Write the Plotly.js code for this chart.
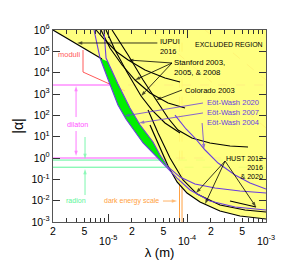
<!DOCTYPE html>
<html><head><meta charset="utf-8">
<script src="https://cdn.plot.ly/plotly-3.0.1.min.js"></script>
<style>html,body{margin:0;padding:0;background:#fff}#c{width:287px;height:263px}</style>
</head><body><div id="c"></div>
<script>
// ---- data (lambda in m, |alpha|) ----
const yellowLam   = [2.0e-6,4.03e-6,7.89e-6,1.026e-5,1.33e-5,1.68e-5,2.19e-5,2.77e-5,3.60e-5,4.54e-5,5.74e-5,7.46e-5,9.98e-5,1.46e-4,2.61e-4,4.69e-4,1e-3,1e-3];
const yellowAlpha = [1e6,2.21e5,4.86e4,3.65e3,305,67.3,16.5,5.04,1.91,0.80,0.339,0.0748,0.0228,0.00863,0.00327,0.00191,0.00138,1e6];
const greenLam    = [7.89e-6,1.026e-5,1.33e-5,1.68e-5,2.19e-5,2.77e-5,3.60e-5,4.54e-5,5.74e-5,4.54e-5,3.70e-5,3.10e-5,2.54e-5,1.89e-5,1.33e-5,9.82e-6];
const greenAlpha  = [4.86e4,3.65e3,305,67.3,16.5,5.04,1.91,0.80,0.339,1.38,5.61,13.3,35.2,220,2.94e3,3.37e4];

const iupuiLam = [2.0e-6,4.03e-6,8.36e-6];
const iupuiAlpha = [1e6,2.21e5,4.37e4];
const stan03Lam = [7.01e-6,9.12e-6,1.29e-5,1.79e-5,2.93e-5,5.25e-5,8.15e-5];
const stan03Alpha = [1e6,3.40e5,9.31e4,3.93e4,1.33e4,5.62e3,3.65e3];
const stan05Lam = [8.11e-6,1.054e-5,1.50e-5,2.19e-5,3.39e-5,5.74e-5,9.42e-5];
const stan05Alpha = [1e6,1.43e5,2.29e4,4.53e3,1.11e3,378,220];
const stan08Lam = [9.40e-6,1.22e-5,1.73e-5,2.61e-5,3.60e-5,5.25e-5,8.15e-5];
const stan08Alpha = [1e6,1.15e5,1.07e4,805,177,43.7,14.8];
const coloLam = [1.12e-5,1.79e-5,2.77e-5,4.04e-5,5.74e-5,7.67e-5,1.15e-4,1.95e-4,3.50e-4,5.92e-4];
const coloAlpha = [1e6,6.73e4,4.53e3,523,74.8,20.5,8.65,5.04,3.65,3.27];
const ew20Lam = [6.62e-6,7.89e-6,1.026e-5,1.33e-5,1.68e-5,2.19e-5,2.77e-5,3.60e-5,4.54e-5,5.74e-5,7.46e-5,1.09e-4,1.95e-4,4.05e-4,1e-3];
const ew20Alpha = [1e6,4.86e4,3.65e3,305,67.3,16.5,5.04,1.91,0.80,0.339,0.115,0.0316,0.00962,0.00504,0.00364];
const ew07Lam = [8.85e-6,9.40e-6,1.33e-5,1.89e-5,2.54e-5,3.10e-5,3.70e-5,4.54e-5,5.74e-5,8.15e-5,1.26e-4,2.26e-4,4.69e-4,1e-3];
const ew07Alpha = [1e6,4.86e4,2.94e3,220,35.2,13.3,5.61,1.38,0.38,0.128,0.0603,0.0392,0.0283,0.0228];
const ew04Lam = [7.03e-5,9.70e-5,1.26e-4,1.69e-4,2.47e-4,4.05e-4,6.28e-4,1e-3];
const ew04Alpha = [103,22.9,8.65,2.37,0.58,0.160,0.0671,0.0352];
const hust12Lam = [3.20e-5,4.29e-5,6.08e-5,8.89e-5,1.34e-4,2.61e-4,5.42e-4,1e-3];
const hust12Alpha = [177,14.8,1.0,0.093,0.0205,0.00625,0.00364,0.00293];
const hust16Lam = [3.50e-4,5.12e-4,7.48e-4];
const hust16Alpha = [0.00962,0.00695,0.00504];
const hust20Lam = [3.39e-5,4.54e-5,5.74e-5,7.46e-5,9.98e-5,1.46e-4,2.61e-4,4.69e-4,1e-3];
const hust20Alpha = [35.2,2.94,0.42,0.0748,0.0228,0.00863,0.00327,0.00191,0.00138];

const moduliLam = [4.80e-6,4.80e-6,1.64e-5];
const moduliAlpha = [1.15e5,1.07e4,1.38e3];
// horizontal model lines: alpha level and lambda where it enters the excluded region
const dilatonAlpha = [2640,1.0];
const dilatonEdgeLam = [1.06e-5,4.3e-5];
const radionAlpha = [0.80,0.37];
const radionEdgeLam = [4.54e-5,5.5e-5];
const darkEnergyLam = [8.02e-5,8.63e-5];
const darkEnergyEdgeAlpha = 0.12;
const guideLam = [[3.39e-5,1e-3],[1.69e-4,1e-3]];
const guideAlpha = [[1e6,25.5],[1e6,4.53e3]];

const lamRange = [2e-6,1e-3];
const alphaRange = [1e-3,1e6];
const yTickVals = [1e-3,1e-2,1e-1,1e0,1e1,1e2,1e3,1e4,1e5,1e6];
const yTickText = ['10<sup>-3</sup>','10<sup>-2</sup>','10<sup>-1</sup>','10<sup>0</sup>','10<sup>1</sup>','10<sup>2</sup>','10<sup>3</sup>','10<sup>4</sup>','10<sup>5</sup>','10<sup>6</sup>'];
const xMinorVals = [2e-6,3e-6,4e-6,5e-6,6e-6,7e-6,8e-6,9e-6,2e-5,3e-5,4e-5,5e-5,6e-5,7e-5,8e-5,9e-5,2e-4,3e-4,4e-4,5e-4,6e-4,7e-4,8e-4,9e-4];
const xDigitVals = [2e-6,5e-6,2e-5,5e-5,2e-4,5e-4];
const xDigitText = ['2','5','2','5','2','5'];
const xDecadeVals = [1e-5,1e-4,1e-3];
const xDecadeText = ['10<sup>-5</sup>','10<sup>-4</sup>','10<sup>-3</sup>'];

// pointers: [tailLam, tailAlpha, headLam, headAlpha]
const ptrIUPUI = [[4.20e-5,2.46e5,4.03e-6,2.46e5]];
const ptrStanford = [[6.44e-5,2.84e4,1.79e-5,3.93e4],[6.44e-5,2.84e4,2.19e-5,4.53e3],[6.44e-5,2.84e4,2.61e-5,805]];
const ptrColorado = [[8.63e-5,1.54e3,4.04e-5,523]];
const ptrEW = [[1.59e-4,378,1.61e-5,92.9],[1.59e-4,129,2.46e-5,43.7],[1.55e-4,43.7,1.64e-4,2.64]];
const ptrHUST = [[3.03e-4,0.721,1.30e-4,0.0228],[3.03e-4,0.721,1.69e-4,0.00695],[3.03e-4,0.721,7.48e-4,0.00504]];
const ptrDilaton = [[3.92e-6,83.4,3.92e-6,2370],[3.92e-6,18.4,3.92e-6,1.24]];
const ptrRadion = [[5.09e-6,9.64,5.09e-6,0.90],[5.09e-6,0.0184,5.09e-6,0.304]];
const ptrDark = [[4.95e-5,0.00962,7.46e-5,0.00962]];

// ---- styles ----
const BLACK='#000000', PURPLE='#6a3de0', RED='#ff5a5a', MAG='#ff55ff', MINT='#5cf59a', ORANGE='#ffa040';
const traces = [];
function line(x,y,color,w,dash){traces.push({x:x,y:y,mode:'lines',type:'scatter',line:{color:color,width:w||1,dash:dash||'solid'},hoverinfo:'skip',showlegend:false});}
function pointers(list,color){list.forEach(p=>traces.push({x:[p[0],p[2]],y:[p[1],p[3]],mode:'lines+markers',type:'scatter',
  line:{color:color,width:0.8},marker:{symbol:'arrow',angleref:'previous',size:[0,5.5],color:color,line:{width:0}},hoverinfo:'skip',showlegend:false}));}

guideLam.forEach((g,i)=>line(g,guideAlpha[i],'rgba(255,160,170,0.9)',0.8,'dash'));
darkEnergyLam.forEach(l=>{line([l,l],[alphaRange[0],darkEnergyEdgeAlpha],ORANGE,1);line([l,l],[darkEnergyEdgeAlpha,alphaRange[1]],'rgba(255,170,110,0.8)',0.8,'dash');});
dilatonAlpha.forEach((a,i)=>{line([lamRange[0],dilatonEdgeLam[i]],[a,a],MAG,1);line([dilatonEdgeLam[i],lamRange[1]],[a,a],'rgba(255,110,255,0.8)',0.8,'dash');});
radionAlpha.forEach((a,i)=>{line([lamRange[0],radionEdgeLam[i]],[a,a],MINT,1);line([radionEdgeLam[i],lamRange[1]],[a,a],'rgba(110,245,160,0.8)',0.8,'dash');});
line(moduliLam,moduliAlpha,RED,1);

traces.push({x:yellowLam,y:yellowAlpha,mode:'lines',fill:'toself',fillcolor:'rgba(255,255,100,0.82)',line:{width:0},hoverinfo:'skip',showlegend:false});
traces.push({x:greenLam,y:greenAlpha,mode:'lines',fill:'toself',fillcolor:'#00f000',line:{width:0},hoverinfo:'skip',showlegend:false});

line(iupuiLam,iupuiAlpha,BLACK,1.1);
line(stan03Lam,stan03Alpha,BLACK,1.1);
line(stan05Lam,stan05Alpha,BLACK,1.1);
line(stan08Lam,stan08Alpha,BLACK,1.1);
line(coloLam,coloAlpha,BLACK,1.1);
line(hust12Lam,hust12Alpha,BLACK,1.1);
line(hust16Lam,hust16Alpha,BLACK,1.1);
line(hust20Lam,hust20Alpha,BLACK,1.2);
line(ew20Lam,ew20Alpha,PURPLE,1.1);
line(ew07Lam,ew07Alpha,PURPLE,1.1);
line(ew04Lam,ew04Alpha,PURPLE,1.1);

pointers(ptrIUPUI,BLACK);pointers(ptrStanford,BLACK);pointers(ptrColorado,BLACK);pointers(ptrHUST,BLACK);
pointers(ptrEW,PURPLE);pointers(ptrDilaton,MAG);pointers(ptrRadion,MINT);pointers(ptrDark,ORANGE);
// invisible trace so the digit-label axis is drawn
traces.push({x:xDigitVals,y:xDigitVals.map(()=>1),mode:'markers',marker:{opacity:0},xaxis:'x2',hoverinfo:'skip',showlegend:false});

const L=Math.log10;
const annotations=[];
const F='"Liberation Sans",Arial,Helvetica,sans-serif';
function txt(t,x,y,xa,color,size){annotations.push({text:t,x:x,y:y,xref:'paper',yref:'paper',xanchor:xa,yanchor:'middle',align:xa==='right'?'right':'left',showarrow:false,font:{family:F,size:size,color:color||BLACK}});}
txt('IUPUI<br>2016',0.491,0.912,'left',BLACK,7.4);
txt('EXCLUDED REGION',0.657,0.922,'left',BLACK,7);
txt('Stanford 2003,<br>2005, &amp; 2008',0.561,0.806,'left',BLACK,7.8);
txt('Colorado 2003',0.608,0.6875,'left',BLACK,7.6);
txt('Eöt-Wash 2020',0.712,0.620,'left',PURPLE,7.6);
txt('Eöt-Wash 2007',0.712,0.568,'left',PURPLE,7.6);
txt('Eöt-Wash 2004',0.712,0.516,'left',PURPLE,7.6);
txt('HUST 2012<br>2016<br>&amp; 2020',0.997,0.281,'right',BLACK,7.1);
txt('moduli',0.136,0.870,'right',RED,7.5);
txt('dilaton',0.115,0.510,'center',MAG,7.2);
txt('radion',0.110,0.109,'center',MINT,7.1);
txt('dark energy scale',0.230,0.109,'left',ORANGE,7);

const layout={
  width:287,height:263,margin:{l:53,r:21,t:30,b:41},
  paper_bgcolor:'#fff',plot_bgcolor:'#fff',showlegend:false,
  font:{family:F,size:10.5,color:'#000'},
  xaxis:{type:'log',range:[L(lamRange[0]),L(lamRange[1])],tickmode:'array',tickvals:xDecadeVals,ticktext:xDecadeText,
    ticks:'inside',ticklen:8,tickwidth:1,tickcolor:'#333',showline:true,linecolor:'#555',linewidth:1.3,mirror:'ticks',
    minor:{tickmode:'array',tickvals:xMinorVals,ticks:'inside',ticklen:4,tickwidth:1,tickcolor:'#333',showgrid:false},
    showgrid:false,zeroline:false,tickfont:{family:F,size:10.5},ticklabelstandoff:9,
    title:{text:'λ (m)',font:{family:F,size:13},standoff:2}},
  xaxis2:{type:'log',overlaying:'x',anchor:'y',side:'bottom',range:[L(lamRange[0]),L(lamRange[1])],tickmode:'array',
    tickvals:xDigitVals,ticktext:xDigitText,ticks:'',showline:false,showgrid:false,zeroline:false,
    tickfont:{family:F,size:10.5},ticklabelstandoff:1},
  yaxis:{type:'log',range:[L(alphaRange[0]),L(alphaRange[1])],tickmode:'array',tickvals:yTickVals,ticktext:yTickText,
    ticks:'inside',ticklen:7,tickwidth:1,tickcolor:'#333',showline:true,linecolor:'#555',linewidth:1.3,mirror:'ticks',
    showgrid:false,zeroline:false,tickfont:{family:F,size:10.5},
    title:{text:'|α|',font:{family:F,size:14},standoff:4}},
  annotations:annotations
};
Plotly.newPlot('c',traces,layout,{staticPlot:true,displayModeBar:false});
</script></body></html>
